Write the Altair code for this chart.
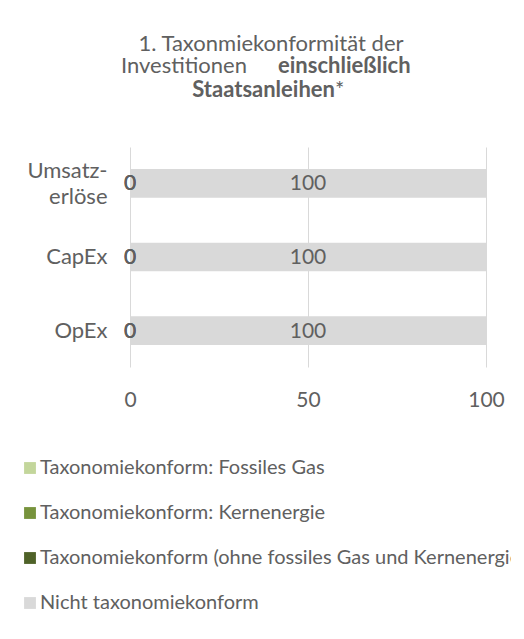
import altair as alt
import pandas as pd

# ---- data ----
categories = ["Umsatz-\nerlöse", "CapEx", "OpEx"]
series = [
    "Taxonomiekonform: Fossiles Gas",
    "Taxonomiekonform: Kernenergie",
    "Taxonomiekonform (ohne fossiles Gas und Kernenergie)",
    "Nicht taxonomiekonform",
]
colors = ["#C3D69B", "#77933C", "#4F6228", "#D9D9D9"]
fossiles_gas = [0, 0, 0]
kernenergie = [0, 0, 0]
ohne_gas_kern = [0, 0, 0]
nicht_konform = [100, 100, 100]
x_ticks = [0, 50, 100]

title_line1 = ["1. Taxonmiekonformität der"]
title_line2a = ["Investitionen"]
title_line2b = ["einschließlich"]
title_line3a = ["Staatsanleihen"]
title_line3b = ["*"]

FONT = "Lato"
TXT = "#606060"
FS = 22
NUM_FS = 21
LEG_FS = 20

rows = []
for i, c in enumerate(categories):
    for j, (s, vals) in enumerate(zip(series, [fossiles_gas, kernenergie, ohne_gas_kern, nicht_konform])):
        rows.append({"category": c, "series": s, "value": vals[i], "order": j})
df = pd.DataFrame(rows)

y_enc = alt.Y(
    "category:N",
    sort=categories,
    title=None,
    scale=alt.Scale(paddingInner=0.61, paddingOuter=0.30),
    axis=alt.Axis(
        domain=False, ticks=False, labelPadding=23, labelFont=FONT, labelFontSize=FS,
        labelColor=TXT, labelExpr="split(datum.label, '\\n')", labelLineHeight=26,
        labelAlign="right", labelBaseline="middle",
        labelOffset={"condition": {"test": "indexof(datum.value, 'Umsatz') >= 0", "value": -12}, "value": 0},
    ),
)

base = alt.Chart(df)

bars = base.mark_bar().encode(
    x=alt.X(
        "value:Q",
        stack="zero",
        title=None,
        scale=alt.Scale(domain=[0, 100], nice=False),
        axis=alt.Axis(
            values=x_ticks, grid=True, gridColor="#D9D9D9", gridWidth=1, domain=False,
            ticks=False, labelFont=FONT, labelFontSize=NUM_FS, labelColor=TXT, labelPadding=22,
            labelFlush=False,
        ),
    ),
    y=y_enc,
    color=alt.Color(
        "series:N",
        scale=alt.Scale(domain=series, range=colors),
        legend=alt.Legend(
            title=None, orient="none", legendX=-110, legendY=311, direction="vertical",
            symbolType="square", symbolSize=140, symbolStrokeWidth=0, labelFont=FONT,
            labelFontSize=LEG_FS, labelColor=TXT, rowPadding=25, labelOffset=0, labelLimit=700,
            padding=0,
        ),
    ),
    order=alt.Order("order:Q"),
)

labels = base.transform_stack(
    stack="value", groupby=["category"], as_=["x0", "x1"], sort=[alt.SortField("order")]
).transform_calculate(mid="(datum.x0 + datum.x1) / 2").mark_text(
    font=FONT, fontSize=NUM_FS, color=TXT, baseline="middle", dy=1
).encode(
    x=alt.X("mid:Q"),
    y=alt.Y("category:N", sort=categories),
    text=alt.Text("value:Q"),
)


def title_text(lines, x, y, align, weight):
    return alt.Chart(pd.DataFrame({"t": lines})).mark_text(
        font=FONT, fontSize=FS, color=TXT, align=align, baseline="alphabetic", fontWeight=weight
    ).encode(x=alt.value(x), y=alt.value(y), text="t:N")


t1 = title_text(title_line1, 141, -96, "center", "normal")
t2a = title_text(title_line2a, 117, -74, "right", "normal")
t2b = title_text(title_line2b, 148, -74, "left", "bold")
t3a = title_text(title_line3a, 205, -50, "right", "bold")
t3b = title_text(title_line3b, 205, -50, "left", "normal")

chart = alt.layer(bars, labels, t1, t2a, t2b, t3a, t3b).properties(
    width=356,
    height=220,
    autosize=alt.AutoSizeParams(type="none"),
    padding={"left": 122, "top": 139, "right": 25, "bottom": 250},
    background="white",
).configure_view(stroke=None)

chart.save("out.html", embed_options={"renderer": "svg", "actions": False})
